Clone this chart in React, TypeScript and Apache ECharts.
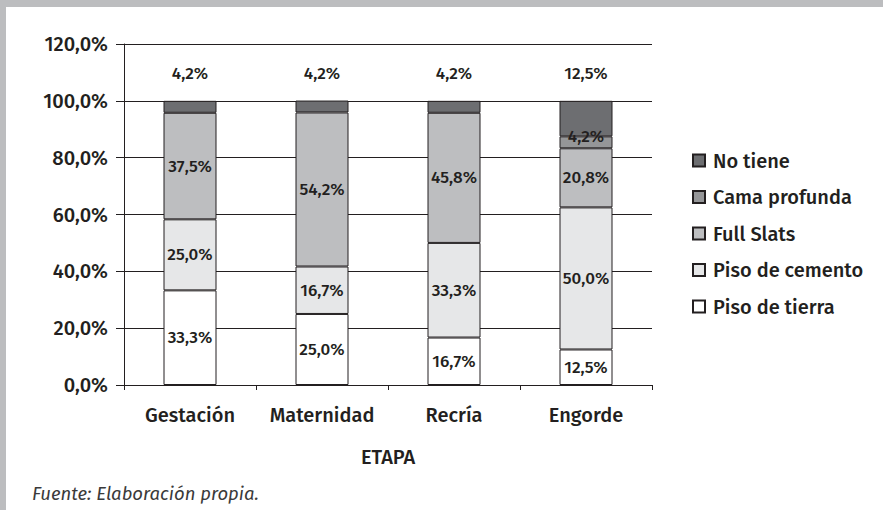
import React, { useEffect, useRef } from "react";
import * as echarts from "echarts";

const categories = ["Gestación", "Maternidad", "Recría", "Engorde"];
const pisoTierra = [33.3, 25.0, 16.7, 12.5];
const pisoCemento = [25.0, 16.7, 33.3, 50.0];
const fullSlats = [37.5, 54.2, 45.8, 20.8];
const camaProfunda: (number | string)[] = ["-", "-", "-", 4.2];
const noTiene = [4.2, 4.2, 4.2, 12.5];
const legendOrder = ["No tiene", "Cama profunda", "Full Slats", "Piso de cemento", "Piso de tierra"];

const INK = "#231f20";
const FONT = "'Fira Sans', 'Open Sans', 'Noto Sans', sans-serif";
const fmt = (v: number) => v.toFixed(1).replace(".", ",") + "%";

export default function App() {
  const ref = useRef<HTMLDivElement>(null);
  useEffect(() => {
    if (!ref.current) return;
    const chart = echarts.init(ref.current, undefined, { renderer: "svg" });
    const mk = (name: string, data: (number | string)[], color: string, top = false, dy = 0) => ({
      name,
      type: "bar",
      stack: "total",
      data,
      barWidth: 53,
      itemStyle: { color, borderColor: INK, borderWidth: 1 },
      label: {
        show: true,
        position: top ? "top" : "inside",
        distance: top ? 19 : 5,
        offset: [0, dy],
        color: INK,
        fontFamily: FONT,
        fontWeight: 500,
        fontSize: 17,
        formatter: (p: any) => fmt(Number(p.value)),
      },
    });
    chart.setOption({
      animation: false,
      backgroundColor: "#ffffff",
      grid: { left: 124, right: 231, top: 44, bottom: 125, containLabel: false },
      legend: {
        orient: "vertical",
        left: 687,
        top: 144,
        data: legendOrder,
        icon: "rect",
        itemWidth: 12,
        itemHeight: 12,
        itemGap: 13.5,
        textStyle: { color: INK, fontFamily: FONT, fontWeight: 500, fontSize: 20, padding: [0, 0, 0, 3], lineHeight: 23 },
      },
      xAxis: {
        type: "category",
        data: categories,
        name: "ETAPA",
        nameLocation: "middle",
        nameGap: 62,
        nameTextStyle: { color: INK, fontFamily: FONT, fontWeight: 500, fontSize: 20 },
        axisLine: { lineStyle: { color: INK, width: 1 } },
        axisTick: { show: true, length: 5, lineStyle: { color: INK } },
        axisLabel: { color: INK, fontFamily: FONT, fontWeight: 500, fontSize: 20, margin: 20, interval: 0 },
      },
      yAxis: {
        type: "value",
        min: 0,
        max: 120,
        interval: 20,
        axisLine: { show: true, lineStyle: { color: INK, width: 1 } },
        axisTick: { show: true, length: 8, lineStyle: { color: INK } },
        splitLine: { show: true, lineStyle: { color: INK, width: 1 } },
        axisLabel: { color: INK, fontFamily: FONT, fontWeight: 500, fontSize: 20, margin: 16, formatter: (v: number) => fmt(v) },
      },
      series: [
        mk("Piso de tierra", pisoTierra, "#ffffff"),
        mk("Piso de cemento", pisoCemento, "#e6e7e8"),
        mk("Full Slats", fullSlats, "#bdbec0"),
        mk("Cama profunda", camaProfunda, "#959698", false, -6),
        mk("No tiene", noTiene, "#6d6e71", true),
      ],
      graphic: [
        { type: "rect", left: 0, top: 0, shape: { width: 883, height: 7 }, style: { fill: "#bcbdbf" } },
        { type: "rect", left: 0, top: 0, shape: { width: 6, height: 510 }, style: { fill: "#bcbdbf" } },
        {
          type: "text",
          left: 32,
          top: 484,
          style: { text: "Fuente: Elaboración propia.", fill: "#3a3a3a", font: `italic 18.5px ${FONT}` },
        },
      ],
    });
    return () => chart.dispose();
  }, []);
  return <div ref={ref} style={{ position: "fixed", left: 0, top: 0, width: 883, height: 510 }} />;
}
